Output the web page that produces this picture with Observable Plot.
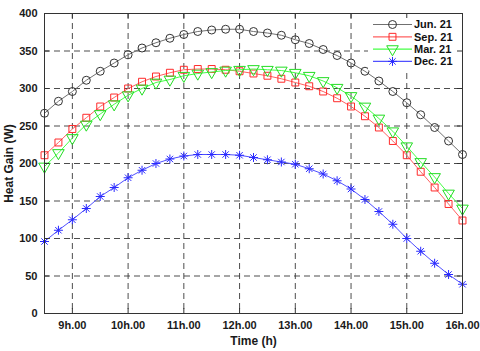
<!DOCTYPE html>
<html><head><meta charset="utf-8">
<script src="https://cdn.jsdelivr.net/npm/d3@7"></script>
<script src="https://cdn.jsdelivr.net/npm/@observablehq/plot@0.6"></script>
<style>
body{margin:0;background:#fff}
#wrap{position:relative;width:480px;height:351px}
#wrap [aria-label="x-axis label"] text,#wrap [aria-label="y-axis label"] text{font-size:12px}
</style></head><body><div id="wrap"></div>
<script>
const hours = [8.5,8.75,9,9.25,9.5,9.75,10,10.25,10.5,10.75,11,11.25,11.5,11.75,12,12.25,12.5,12.75,13,13.25,13.5,13.75,14,14.25,14.5,14.75,15,15.25,15.5,15.75,16];
const seriesNames = ["Jun. 21","Sep. 21","Mar. 21","Dec. 21"];
const jun = [267,283,296,311,323,334,345,354,361,367,372,376,378,379,379,376,374,371,365,360,352,344,334,323,310,296,281,265,248,230,212];
const sep = [211,228,246,261,276,288,300,309,316,321,325,326,326,325,323,320,317,313,308,303,296,287,276,263,248,230,211,189,168,146,124];
const mar = [196,214,234,252,266,279,291,300,308,312,317,320,322,324,325,326,325,324,321,317,310,301,290,276,260,243,223,202,182,160,140];
const dec = [96,111,125,140,156,168,181,191,200,206,210,212,212,212,211,208,205,202,199,193,186,177,166,152,136,119,100,83,67,52,39];
const xTicks = [9,10,11,12,13,14,15,16];
const yTicks = [0,50,100,150,200,250,300,350,400];
const yGrid = [50,100,150,200,250,300,350];
const lineColors = ["#707070","#ff6060","#44ff44","#5050ff"];
const markColors = ["#333333","#ff2a2a","#22dd22","#2a2aff"];
const symbols = [["circle"],["square"],["triangle"],["plus","times"]];
const rotations = [0,0,180,0];
const radii = [4,3.9,4.3,3];
const valuesBySeries = [jun,sep,mar,dec];

const seriesData = valuesBySeries.map((vals,s)=>hours.map((h,i)=>({hour:h,value:vals[i],series:seriesNames[s]})));

const marks = [
  Plot.gridX(xTicks,{stroke:"#3a3a3a",strokeOpacity:0.9,strokeDasharray:"6,4"}),
  Plot.gridY(yGrid,{stroke:"#3a3a3a",strokeOpacity:0.9,strokeDasharray:"6,4"})
];
seriesData.forEach((d,s)=>{
  marks.push(Plot.line(d,{x:"hour",y:"value",stroke:lineColors[s],strokeWidth:1}));
  symbols[s].forEach(sym=>{
    marks.push(Plot.dot(d,{x:"hour",y:"value",symbol:sym,r:radii[s],rotate:rotations[s],stroke:markColors[s],fill:"none",strokeWidth:1}));
  });
});

// legend (render function mark)
marks.push((index, scales, values, dims) => {
  const g = d3.create("svg:g").attr("text-anchor","start");
  const right = dims.width - dims.marginRight;
  const top = dims.marginTop;
  g.append("rect").attr("x", right-94).attr("y", top+0.5).attr("width", 93.5).attr("height", 57).attr("fill","#fff");
  seriesNames.forEach((name,s)=>{
    const y = top + 11.5 + s*12.3;
    const x0 = right-89, x1 = right-50, xm = (x0+x1)/2;
    g.append("line").attr("x1",x0).attr("x2",x1).attr("y1",y).attr("y2",y).attr("stroke",lineColors[s]).attr("stroke-width",1.2);
    symbols[s].forEach(sym=>{
      const map = {circle:d3.symbolCircle,square:d3.symbolSquare,triangle:d3.symbolTriangle,plus:d3.symbolPlus,times:d3.symbolTimes};
      g.append("path").attr("d", d3.symbol(map[sym], Math.PI*radii[s]*radii[s])())
        .attr("transform",`translate(${xm},${y}) rotate(${rotations[s]})`)
        .attr("fill","none").attr("stroke",markColors[s]).attr("stroke-width",1);
    });
    g.append("text").attr("x", x1+2).attr("y", y).attr("dy","0.35em").attr("fill","#111").text(name);
  });
  return g.node();
});

marks.push(
  Plot.tickX(xTicks,{x:d=>d,insetTop:295,stroke:"#333"}),
  Plot.tickX(xTicks,{x:d=>d,insetBottom:295,stroke:"#333"}),
  Plot.tickY(yTicks,{y:d=>d,insetRight:413,stroke:"#333"}),
  Plot.tickY(yTicks,{y:d=>d,insetLeft:413,stroke:"#333"}),
  Plot.frame({stroke:"#333",strokeWidth:1}),
  Plot.axisX({ticks:xTicks,tickFormat:d=>`${d}h.00`,tickSize:0,tickPadding:8,label:"Time (h)",labelAnchor:"center",labelOffset:31,labelArrow:"none"}),
  Plot.axisY({ticks:yTicks,tickSize:0,tickPadding:7,label:"Heat Gain (W)",labelAnchor:"center",labelOffset:40,labelArrow:"none"})
);

const chart = Plot.plot({
  width:480, height:351,
  marginLeft:44, marginRight:18, marginTop:13, marginBottom:38,
  x:{domain:[8.5,16]},
  y:{domain:[0,400]},
  style:{fontFamily:"'Liberation Sans', Arial, sans-serif",fontSize:"11px",fontWeight:"bold",color:"#1a1a1a",background:"#fff"},
  marks
});
document.getElementById("wrap").appendChild(chart);
</script></body></html>
